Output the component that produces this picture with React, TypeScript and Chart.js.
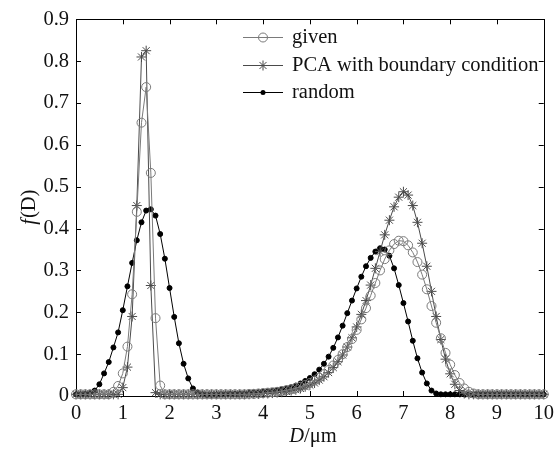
import React, { useEffect, useRef } from "react";
import { Chart, registerables } from "chart.js";

Chart.register(...registerables);

// Particle diameter D (µm)
const dValues = [
  0.0, 0.1, 0.2, 0.3, 0.4, 0.5, 0.6, 0.7, 0.8, 0.9,
  1.0, 1.1, 1.2, 1.3, 1.4, 1.5, 1.6, 1.7, 1.8, 1.9,
  2.0, 2.1, 2.2, 2.3, 2.4, 2.5, 2.6, 2.7, 2.8, 2.9,
  3.0, 3.1, 3.2, 3.3, 3.4, 3.5, 3.6, 3.7, 3.8, 3.9,
  4.0, 4.1, 4.2, 4.3, 4.4, 4.5, 4.6, 4.7, 4.8, 4.9,
  5.0, 5.1, 5.2, 5.3, 5.4, 5.5, 5.6, 5.7, 5.8, 5.9,
  6.0, 6.1, 6.2, 6.3, 6.4, 6.5, 6.6, 6.7, 6.8, 6.9,
  7.0, 7.1, 7.2, 7.3, 7.4, 7.5, 7.6, 7.7, 7.8, 7.9,
  8.0, 8.1, 8.2, 8.3, 8.4, 8.5, 8.6, 8.7, 8.8, 8.9,
  9.0, 9.1, 9.2, 9.3, 9.4, 9.5, 9.6, 9.7, 9.8, 9.9,
  10.0,
];

const givenValues = [
  0.004, 0.004, 0.004, 0.004, 0.004, 0.004, 0.004, 0.004, 0.010, 0.024,
  0.054, 0.118, 0.243, 0.440, 0.653, 0.738, 0.533, 0.186, 0.025, 0.004,
  0.004, 0.004, 0.004, 0.004, 0.004, 0.004, 0.004, 0.004, 0.004, 0.004,
  0.004, 0.004, 0.004, 0.004, 0.004, 0.004, 0.004, 0.005, 0.005, 0.006,
  0.007, 0.008, 0.009, 0.010, 0.012, 0.014, 0.016, 0.019, 0.022, 0.026,
  0.031, 0.037, 0.044, 0.052, 0.062, 0.073, 0.086, 0.100, 0.117, 0.136,
  0.158, 0.183, 0.210, 0.240, 0.270, 0.300, 0.327, 0.348, 0.363, 0.371,
  0.370, 0.360, 0.343, 0.320, 0.290, 0.255, 0.215, 0.175, 0.138, 0.103,
  0.075, 0.050, 0.031, 0.018, 0.010, 0.006, 0.004, 0.004, 0.004, 0.004,
  0.004, 0.004, 0.004, 0.004, 0.004, 0.004, 0.004, 0.004, 0.004, 0.004,
  0.004,
];

const pcaValues = [
  0.004, 0.004, 0.004, 0.004, 0.004, 0.004, 0.004, 0.004, 0.004, 0.004,
  0.020, 0.069, 0.190, 0.455, 0.810, 0.825, 0.264, 0.008, 0.004, 0.004,
  0.004, 0.004, 0.004, 0.004, 0.004, 0.004, 0.004, 0.004, 0.004, 0.004,
  0.004, 0.004, 0.004, 0.004, 0.004, 0.004, 0.004, 0.004, 0.005, 0.005,
  0.006, 0.006, 0.007, 0.008, 0.009, 0.011, 0.013, 0.015, 0.018, 0.022,
  0.026, 0.031, 0.038, 0.046, 0.056, 0.068, 0.082, 0.098, 0.117, 0.139,
  0.165, 0.195, 0.228, 0.265, 0.305, 0.345, 0.385, 0.420, 0.452, 0.475,
  0.488, 0.480, 0.455, 0.415, 0.365, 0.310, 0.250, 0.190, 0.135, 0.088,
  0.053, 0.028, 0.013, 0.006, 0.004, 0.004, 0.004, 0.004, 0.004, 0.004,
  0.004, 0.004, 0.004, 0.004, 0.004, 0.004, 0.004, 0.004, 0.004, 0.004,
  0.004,
];

const randomValues = [
  0.004, 0.004, 0.005, 0.007, 0.013, 0.028, 0.054, 0.081, 0.116, 0.152,
  0.205, 0.262, 0.318, 0.372, 0.415, 0.443, 0.446, 0.431, 0.387, 0.328,
  0.258, 0.189, 0.126, 0.077, 0.042, 0.018, 0.008, 0.004, 0.003, 0.003,
  0.003, 0.004, 0.004, 0.005, 0.005, 0.006, 0.006, 0.007, 0.008, 0.009,
  0.010, 0.011, 0.012, 0.014, 0.016, 0.018, 0.021, 0.025, 0.030, 0.036,
  0.043, 0.052, 0.063, 0.077, 0.094, 0.115, 0.140, 0.168, 0.198, 0.228,
  0.257, 0.285, 0.310, 0.330, 0.345, 0.353, 0.350, 0.335, 0.305, 0.265,
  0.222, 0.178, 0.132, 0.090, 0.056, 0.030, 0.013, 0.006, 0.004, 0.004,
  0.004, 0.004, 0.004, 0.004, 0.004, 0.004, 0.004, 0.004, 0.004, 0.004,
  0.004, 0.004, 0.004, 0.004, 0.004, 0.004, 0.004, 0.004, 0.004, 0.004,
  0.004,
];

const seriesNames = ["given", "PCA with boundary condition", "random"];
const xTickValues = [0, 1, 2, 3, 4, 5, 6, 7, 8, 9, 10];
const yTickValues = [0, 0.1, 0.2, 0.3, 0.4, 0.5, 0.6, 0.7, 0.8, 0.9];

const FONT = "'Liberation Serif', 'Times New Roman', serif";
const FS = 20.5;

const seriesStyles = [
  { line: "#7a7a7a", point: "#7a7a7a", style: "circle", radius: 4.5, fill: "rgba(255,255,255,0)" },
  { line: "#4a4a4a", point: "#4a4a4a", style: "star", radius: 5, fill: "#4a4a4a" },
  { line: "#000000", point: "#000000", style: "circle", radius: 2.5, fill: "#000000" },
];

function drawMarker(ctx: CanvasRenderingContext2D, kind: number, x: number, y: number) {
  const s = seriesStyles[kind];
  ctx.save();
  ctx.strokeStyle = s.point;
  ctx.fillStyle = s.fill;
  ctx.lineWidth = 1;
  if (kind === 0) {
    ctx.beginPath();
    ctx.arc(x, y, s.radius, 0, Math.PI * 2);
    ctx.stroke();
  } else if (kind === 1) {
    const r = s.radius;
    ctx.beginPath();
    ctx.moveTo(x - r, y); ctx.lineTo(x + r, y);
    ctx.moveTo(x, y - r); ctx.lineTo(x, y + r);
    const d = r * 0.7071;
    ctx.moveTo(x - d, y - d); ctx.lineTo(x + d, y + d);
    ctx.moveTo(x - d, y + d); ctx.lineTo(x + d, y - d);
    ctx.stroke();
  } else {
    ctx.beginPath();
    ctx.arc(x, y, s.radius, 0, Math.PI * 2);
    ctx.fill();
  }
  ctx.restore();
}

const framePlugin = {
  id: "framePlugin",
  beforeDatasetsDraw(chart: any) {
    const { ctx, chartArea } = chart;
    const { left, right, top, bottom } = chartArea;
    const xs = chart.scales.x;
    const ys = chart.scales.y;
    ctx.save();
    ctx.strokeStyle = "#000";
    ctx.lineWidth = 1;
    ctx.strokeRect(Math.round(left) + 0.5, Math.round(top) + 0.5, Math.round(right - left), Math.round(bottom - top));
    ctx.beginPath();
    const tl = 5;
    xs.ticks.forEach((t: any) => {
      const px = Math.round(xs.getPixelForValue(t.value)) + 0.5;
      ctx.moveTo(px, bottom); ctx.lineTo(px, bottom - tl);
      ctx.moveTo(px, top); ctx.lineTo(px, top + tl);
    });
    ys.ticks.forEach((t: any) => {
      const py = Math.round(ys.getPixelForValue(t.value)) + 0.5;
      ctx.moveTo(left, py); ctx.lineTo(left + tl, py);
      ctx.moveTo(right, py); ctx.lineTo(right - tl, py);
    });
    ctx.stroke();
    ctx.restore();
  },
  afterDraw(chart: any) {
    const { ctx, chartArea } = chart;
    const { left, right, top, bottom } = chartArea;
    ctx.save();
    ctx.fillStyle = "#111";
    ctx.textBaseline = "middle";
    // x title: D/µm
    {
      const a = "D";
      const b = "/\u03bcm";
      ctx.font = `italic ${FS}px ${FONT}`;
      const wa = ctx.measureText(a).width;
      ctx.font = `${FS}px ${FONT}`;
      const wb = ctx.measureText(b).width;
      const cx = (left + right) / 2 + 3;
      const x0 = cx - (wa + wb) / 2;
      const y0 = 437;
      ctx.textAlign = "left";
      ctx.font = `italic ${FS}px ${FONT}`;
      ctx.fillText(a, x0, y0);
      ctx.font = `${FS}px ${FONT}`;
      ctx.fillText(b, x0 + wa, y0);
    }
    // y title: f(D)
    {
      const a = "f";
      const b = "(D)";
      ctx.translate(30, (top + bottom) / 2);
      ctx.rotate(-Math.PI / 2);
      ctx.font = `italic ${FS}px ${FONT}`;
      const wa = ctx.measureText(a).width;
      ctx.font = `${FS}px ${FONT}`;
      const wb = ctx.measureText(b).width;
      const x0 = -(wa + wb) / 2;
      ctx.textAlign = "left";
      ctx.font = `italic ${FS}px ${FONT}`;
      ctx.fillText(a, x0, 0);
      ctx.font = `${FS}px ${FONT}`;
      ctx.fillText(b, x0 + wa + 1, 0);
    }
    ctx.restore();

    // legend
    ctx.save();
    ctx.font = `${FS}px ${FONT}`;
    ctx.textAlign = "left";
    ctx.textBaseline = "middle";
    chart.data.datasets.forEach((ds: any, i: number) => {
      const y = 37 + i * 27.5;
      const s = seriesStyles[i];
      ctx.strokeStyle = s.line;
      ctx.lineWidth = 1;
      ctx.beginPath();
      ctx.moveTo(243, Math.round(y) + 0.5);
      ctx.lineTo(283, Math.round(y) + 0.5);
      ctx.stroke();
      drawMarker(ctx, i, 263, Math.round(y) + 0.5);
      ctx.fillStyle = "#111";
      ctx.fillText(ds.label, 292, y + 1);
    });
    ctx.restore();
  },
};

export default function App() {
  const canvasRef = useRef<HTMLCanvasElement | null>(null);

  useEffect(() => {
    const canvas = canvasRef.current;
    if (!canvas) return;
    const allSeries = [givenValues, pcaValues, randomValues];
    const chart = new Chart(canvas, {
      type: "line",
      data: {
        datasets: allSeries.map((vals, i) => {
          const s = seriesStyles[i];
          return {
            label: seriesNames[i],
            data: dValues.map((d, k) => ({ x: d, y: vals[k] })),
            borderColor: s.line,
            borderWidth: 1,
            pointStyle: s.style as any,
            pointRadius: s.radius,
            pointBorderColor: s.point,
            pointBackgroundColor: s.fill,
            pointBorderWidth: 1,
            pointHoverRadius: s.radius,
            tension: 0,
            fill: false,
            clip: false as any,
          };
        }),
      },
      options: {
        animation: false,
        responsive: false,
        events: [],
        layout: { padding: { top: 14, right: 11, left: 0, bottom: 0 } },
        plugins: {
          legend: { display: false },
          tooltip: { enabled: false },
          title: { display: false },
        },
        scales: {
          x: {
            type: "linear",
            min: 0,
            max: 10,
            afterBuildTicks: (scale: any) => {
              scale.ticks = xTickValues.map((v) => ({ value: v }));
            },
            afterFit: (scale: any) => {
              scale.height = 57;
            },
            grid: { display: false, drawTicks: false },
            border: { display: false },
            ticks: {
              padding: 5,
              color: "#111",
              font: { family: FONT, size: FS },
              maxRotation: 0,
              callback: (v: any) => String(v),
            },
          },
          y: {
            type: "linear",
            min: 0,
            max: 0.9,
            afterBuildTicks: (scale: any) => {
              scale.ticks = yTickValues.map((v) => ({ value: v }));
            },
            afterFit: (scale: any) => {
              scale.width = 76;
            },
            grid: { display: false, drawTicks: false },
            border: { display: false },
            ticks: {
              padding: 7,
              color: "#111",
              font: { family: FONT, size: FS },
              callback: (v: any) => (Number(v) === 0 ? "0" : Number(v).toFixed(1)),
            },
          },
        },
      },
      plugins: [framePlugin],
    });
    return () => chart.destroy();
  }, []);

  return (
    <div style={{ position: "absolute", left: 0, top: 0, width: 559, height: 453, background: "#fff" }}>
      <canvas ref={canvasRef} width={559} height={453} style={{ display: "block", width: 559, height: 453 }} />
    </div>
  );
}
